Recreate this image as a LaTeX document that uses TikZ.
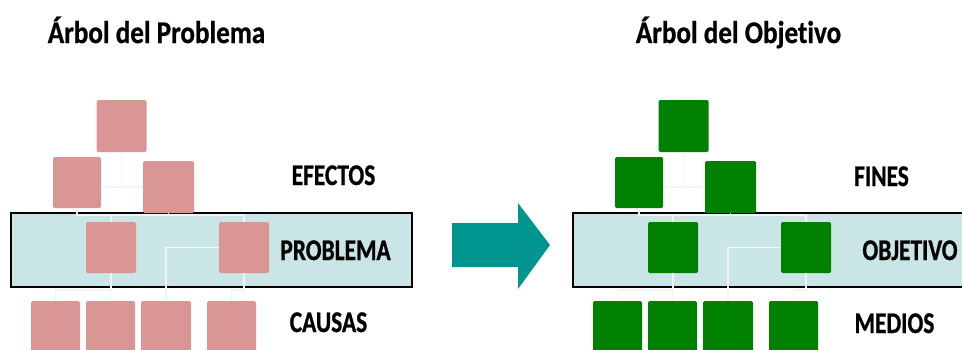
\documentclass[tikz,border=0pt]{standalone}
\usepackage{fontspec}
\newfontfamily\titlefont[FakeStretch=0.86,FakeBold=0.8,Ligatures=NoCommon]{Carlito}
\newfontfamily\labelfont[FakeStretch=0.78,FakeBold=0.8,Ligatures=NoCommon]{Carlito}
\definecolor{pinkbox}{HTML}{D99694}
\definecolor{greenbox}{HTML}{008000}
\definecolor{bandc}{HTML}{C9E5E5}
\definecolor{teal}{HTML}{00968F}
\definecolor{connc}{HTML}{F4F4F4}
\tikzset{
  box/.style={minimum width=50pt,minimum height=51pt,inner sep=0pt,rounded corners=1.5pt,draw=none},
  conn/.style={draw=connc,line width=1.6pt},
  bandbox/.style={draw=black,line width=1.8pt,fill=bandc,inner sep=0pt,minimum height=74pt,anchor=west},
  lbl/.style={font=\labelfont\bfseries\fontsize{30}{31}\selectfont,anchor=base,inner sep=0pt},
  ttl/.style={font=\titlefont\bfseries\fontsize{31.5}{32}\selectfont,anchor=base,inner sep=0pt},
}
\newcommand\mytree[4]{%
\begin{scope}[xshift=#3pt]
  \node[bandbox,minimum width=#4pt] (#1band) at (10,250) {};
  \node[box,fill=#2,minimum height=52pt] (#1t) at (121.5,126) {};
  \node[box,fill=#2,minimum width=48pt] (#1e1) at (77,182.5) {};
  \node[box,fill=#2,minimum width=51pt,minimum height=52pt] (#1e2) at (168.5,187) {};
  \node[box,fill=#2] (#1p1) at (111,247.5) {};
  \node[box,fill=#2] (#1p2) at (244,247.5) {};
  \node[box,fill=#2,minimum width=49pt,minimum height=52pt] (#1c1) at (55.5,327) {};
  \node[box,fill=#2,minimum width=49pt,minimum height=52pt] (#1c2) at (110.5,327) {};
  \node[box,fill=#2,minimum width=50pt,minimum height=52pt] (#1c3) at (166,327) {};
  \node[box,fill=#2,minimum width=49pt,minimum height=52pt] (#1c4) at (231.5,327) {};
  \coordinate (#1j1) at (0,187);
  \coordinate (#1j2) at (0,215);
  \coordinate (#1j3) at (0,290);
  \draw[conn] (#1t.south) -- (#1t.south |- #1j1);
  \draw[conn] (#1e1.east |- #1j1) -- (#1e2.west |- #1j1);
  \draw[conn] (#1e1.south) -- (#1e1.south |- #1j2) -- (#1p2.north |- #1j2) -- (#1p2.north);
  \draw[conn] (#1e2.south) -- (#1e2.south |- #1j2);
  \draw[conn] (#1p1.north |- #1j2) -- (#1p1.north);
  \draw[conn] (#1p1.south) -- (#1p1.south |- #1j3) -- (#1c1.north |- #1j3) -- (#1c1.north);
  \draw[conn] (#1c2.north |- #1j3) -- (#1c2.north);
  \draw[conn] (#1p2.west) -- (#1c3.north |- #1p2.west) -- (#1c3.north);
  \draw[conn] (#1p2.south) -- (#1p2.south |- #1j3) -- (#1c4.north |- #1j3) -- (#1c4.north);
\end{scope}}
\begin{document}
\begin{tikzpicture}[x=1pt,y=-1pt]
\useasboundingbox (0,0) rectangle (962,349);
\mytree{L}{pinkbox}{0}{401}
\mytree{R}{greenbox}{562}{420}
% arrow
\fill[teal] (452,223) -- (518,223) -- (518,203) -- (550,245) -- (518,289) -- (518,267) -- (452,267) -- cycle;
% titles
\node[ttl] (tl) at (156.5,43) {Árbol del Problema};
\node[ttl] (tr) at (738.5,43) {Árbol del Objetivo};
% labels
\node[lbl] (efectos) at (333.5,185) {EFECTOS};
\node[lbl] (problema) at (335.5,260) {PROBLEMA};
\node[lbl] (causas) at (328.5,332) {CAUSAS};
\node[lbl] (fines) at (881.5,186) {FINES};
\node[lbl] (objetivo) at (910,260) {OBJETIVO};
\node[lbl] (medios) at (894.5,333) {MEDIOS};
\end{tikzpicture}
\end{document}
